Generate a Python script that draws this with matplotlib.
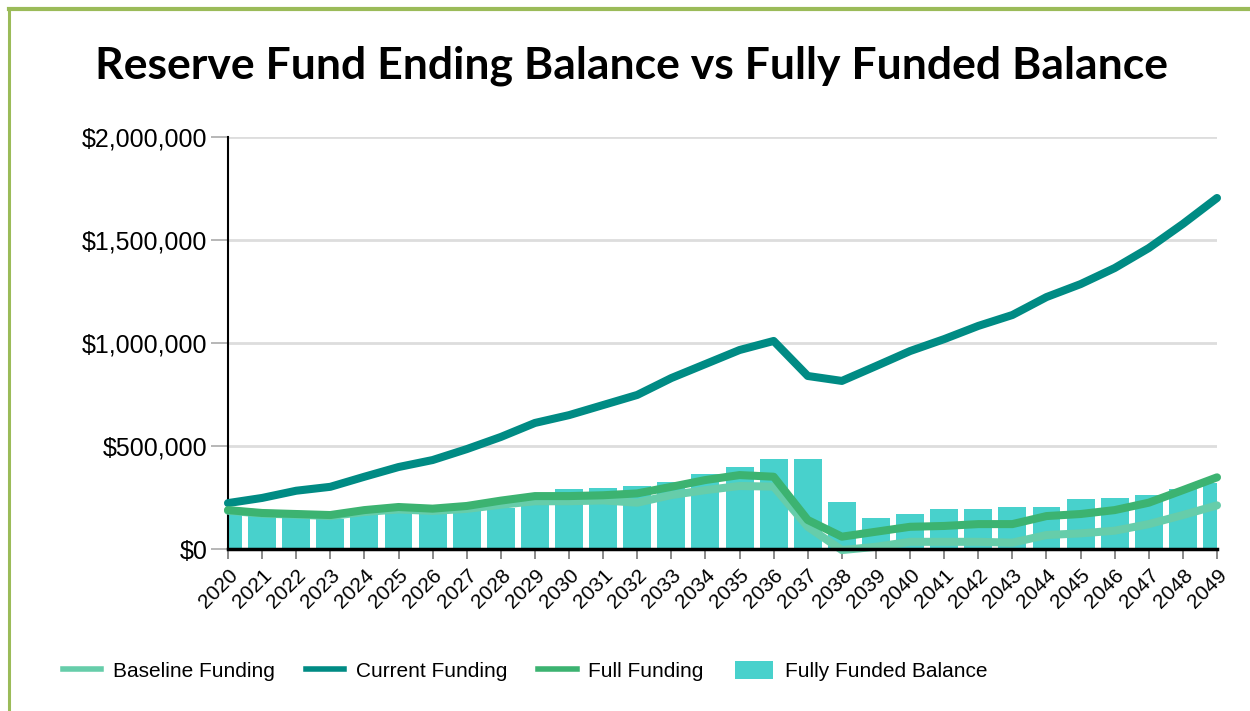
import matplotlib
matplotlib.use("Agg")
import matplotlib.pyplot as plt
from matplotlib.lines import Line2D
from matplotlib.patches import Patch
from matplotlib.ticker import FuncFormatter

years = list(range(2020, 2050))

baseline_funding = [186000, 172000, 167000, 160000, 180000, 192000, 185000, 195000, 215000, 232000,
                    232000, 236000, 225000, 262000, 286000, 306000, 303000, 108000, -5000, 11000,
                    35000, 35000, 35000, 31000, 68000, 76000, 89000, 121000, 165000, 212000]

current_funding = [223000, 248000, 283000, 302000, 351000, 398000, 432000, 485000, 544000, 612000,
                   650000, 699000, 748000, 830000, 898000, 966000, 1010000, 840000, 816000, 888000,
                   961000, 1019000, 1083000, 1136000, 1223000, 1286000, 1364000, 1461000, 1578000, 1704000]

full_funding = [189000, 175000, 170000, 165000, 189000, 204000, 196000, 209000, 235000, 257000,
                257000, 261000, 270000, 302000, 335000, 359000, 351000, 141000, 60000, 84000,
                108000, 112000, 121000, 121000, 160000, 170000, 189000, 225000, 286000, 348000]

fully_funded_balance = [170000, 158000, 152000, 145000, 165000, 180000, 175000, 185000, 200000, 215000,
                        291000, 296000, 306000, 327000, 362000, 400000, 436000, 439000, 227000, 150000,
                        170000, 193000, 196000, 206000, 206000, 242000, 248000, 260000, 292000, 320000]

C_BASE = "#66CDAA"
C_CURR = "#008B84"
C_FULL = "#3CB371"
C_BAR = "#48D1CC"
C_FRAME = "#9BBB59"

plt.rcParams['font.family'] = ['Liberation Sans', 'DejaVu Sans']

fig = plt.figure(figsize=(12.5, 7.11), dpi=100)
ax = fig.add_axes([0.1824, 0.2278, 0.9736 - 0.1824, 0.8073 - 0.2278])

# outer frame (top and left edges only are visible)
fig.add_artist(Line2D([0.0068, 1.0], [0.988, 0.988], transform=fig.transFigure,
                      color=C_FRAME, lw=3.0, solid_capstyle='projecting'))
fig.add_artist(Line2D([0.0068, 0.0068], [0.0, 0.988], transform=fig.transFigure,
                      color=C_FRAME, lw=2.2, solid_capstyle='projecting'))

ax.bar(years, fully_funded_balance, width=0.82, color=C_BAR, zorder=2)
lw = 5.8
ax.plot(years, baseline_funding, color=C_BASE, lw=lw, solid_capstyle='round',
        solid_joinstyle='round', zorder=3, clip_on=False)
ax.plot(years, current_funding, color=C_CURR, lw=lw, solid_capstyle='round',
        solid_joinstyle='round', zorder=4, clip_on=False)
ax.plot(years, full_funding, color=C_FULL, lw=lw, solid_capstyle='round',
        solid_joinstyle='round', zorder=5, clip_on=False)

ax.set_xlim(2020, 2049)
ax.set_ylim(0, 2000000)
ax.set_yticks([0, 500000, 1000000, 1500000, 2000000])
ax.yaxis.set_major_formatter(FuncFormatter(lambda v, p: "${:,.0f}".format(v)))
ax.set_xticks(years)
ax.set_xticklabels([str(y) for y in years], rotation=45, ha='right',
                   rotation_mode='anchor', fontsize=15)
ax.tick_params(axis='y', labelsize=18, length=12, width=1.2, color="#aaaaaa", pad=3)
ax.tick_params(axis='x', length=7, width=1.2, color="#777777", pad=5)

ax.grid(axis='y', color="#dddddd", linewidth=2, zorder=0)
ax.set_axisbelow(True)
for s in ['top', 'right']:
    ax.spines[s].set_visible(False)
ax.spines['left'].set_linewidth(1.5)
ax.spines['bottom'].set_linewidth(2.5)
ax.spines['bottom'].set_zorder(6)

fig.text(0.505, 0.908, "Reserve Fund Ending Balance vs Fully Funded Balance",
         ha='center', va='center', fontsize=32, fontweight='bold', family='Lato')

handles = [
    Line2D([], [], color=C_BASE, lw=4),
    Line2D([], [], color=C_CURR, lw=4),
    Line2D([], [], color=C_FULL, lw=4),
    Patch(facecolor=C_BAR, edgecolor='none'),
]
labels = ["Baseline Funding", "Current Funding", "Full Funding", "Fully Funded Balance"]
fig.legend(handles, labels, loc='center', bbox_to_anchor=(0.42, 0.056), ncol=4,
           frameon=False, fontsize=15, handlelength=1.85, handleheight=0.9,
           handletextpad=0.55, columnspacing=1.5)

fig.savefig("out.png", dpi=100)
